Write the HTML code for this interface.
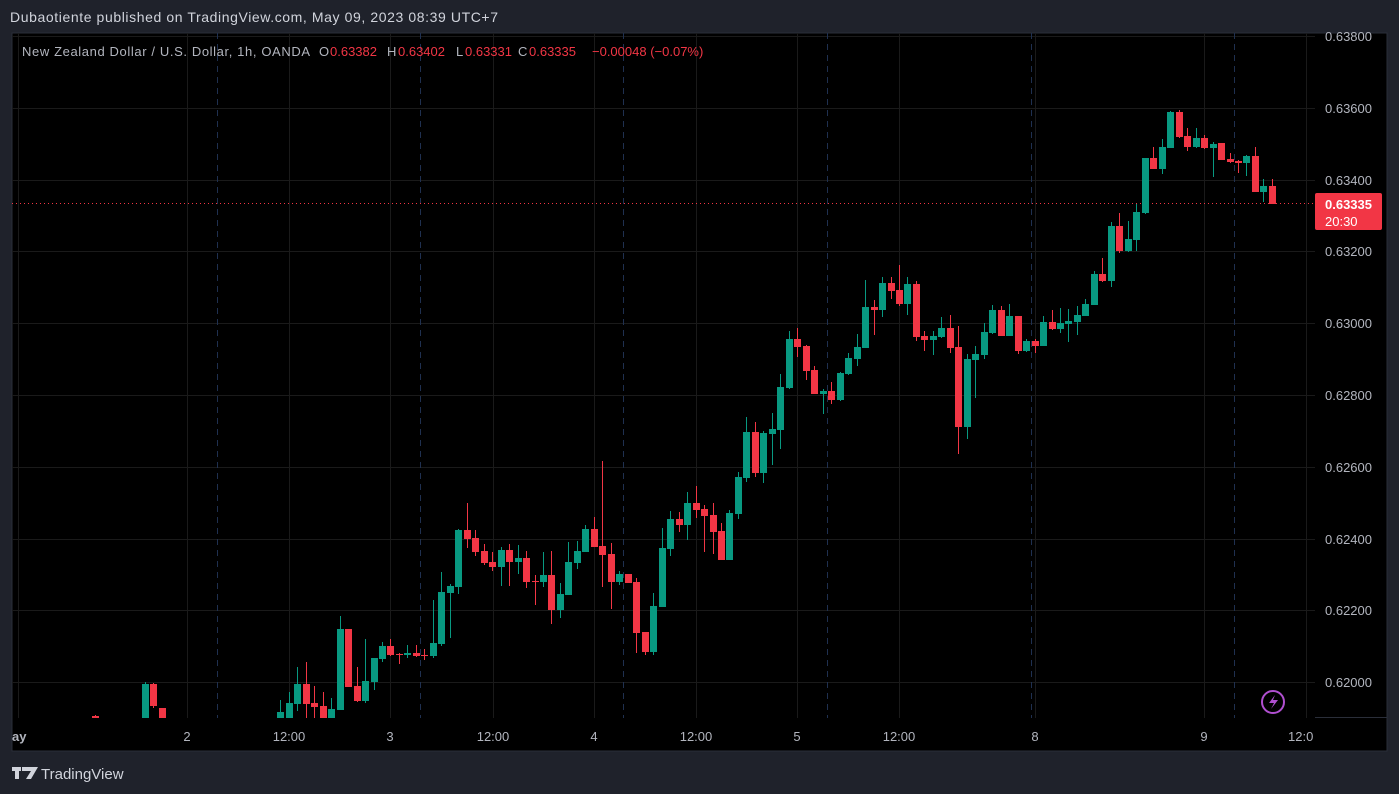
<!DOCTYPE html>
<html><head><style>
body{margin:0;width:1399px;height:794px;background:#1f222b;overflow:hidden;font-family:"Liberation Sans",sans-serif}
svg{position:absolute;left:0;top:0}
</style></head><body>
<svg width="1399" height="794" xmlns="http://www.w3.org/2000/svg" font-family="Liberation Sans, sans-serif">
<rect x="0" y="0" width="1399" height="794" fill="#1f222b"/>
<text x="10" y="22" fill="#d1d4dc" font-size="14" textLength="488">Dubaotiente published on TradingView.com, May 09, 2023 08:39 UTC+7</text>
<rect x="12" y="33" width="1375" height="718" fill="#000" stroke="#2a2e39"/>
<g stroke="#1a1a1a" stroke-width="1" id="grid"></g>
<g id="vd" stroke="#1f3050" stroke-dasharray="6,5"></g>
<line x1="12" y1="203.5" x2="1315" y2="203.5" stroke="#f23645" stroke-dasharray="1,3"/>
<g id="c"></g>
<line x1="1315" y1="717.5" x2="1387" y2="717.5" stroke="#2a2e39"/>
<g fill="#b2b5be" font-size="13" id="pl"></g>
<rect x="1315" y="193" width="67" height="37" fill="#f23645" rx="2"/>
<text x="1325" y="209" fill="#fff" font-size="13" font-weight="bold">0.63335</text>
<text x="1325" y="226" fill="#fff" font-size="13">20:30</text>
<g fill="#b2b5be" font-size="13">
<text x="12" y="741" font-weight="bold">ay</text>
<text x="187" y="741" text-anchor="middle">2</text>
<text x="289" y="741" text-anchor="middle">12:00</text>
<text x="390" y="741" text-anchor="middle">3</text>
<text x="493" y="741" text-anchor="middle">12:00</text>
<text x="594" y="741" text-anchor="middle">4</text>
<text x="696" y="741" text-anchor="middle">12:00</text>
<text x="797" y="741" text-anchor="middle">5</text>
<text x="899" y="741" text-anchor="middle">12:00</text>
<text x="1035" y="741" text-anchor="middle">8</text>
<text x="1204" y="741" text-anchor="middle">9</text>
<text x="1288" y="741">12:0</text>
</g>
<g font-size="13" fill="#b2b5be">
<text x="22" y="56" textLength="288">New Zealand Dollar / U.S. Dollar, 1h, OANDA</text>
<text x="319" y="56">O</text><text x="330" y="56" fill="#f23645">0.63382</text>
<text x="387" y="56">H</text><text x="398" y="56" fill="#f23645">0.63402</text>
<text x="456" y="56">L</text><text x="465" y="56" fill="#f23645">0.63331</text>
<text x="518" y="56">C</text><text x="529" y="56" fill="#f23645">0.63335</text>
<text x="592" y="56" fill="#f23645">−0.00048 (−0.07%)</text>
</g>
<circle cx="1273" cy="702" r="11" fill="none" stroke="#b04fd0" stroke-width="2"/>
<path d="M1275 695 L1269 703 L1274 703 L1271 709 L1278 700 L1273 700 Z" fill="#b04fd0"/>
<g fill="#d1d4dc"><rect x="12" y="767" width="9" height="4"/><rect x="15" y="767" width="4" height="12"/><path d="M22 767 h16 l-7 12 h-5 l5 -8 h-9z"/></g>
<text x="41" y="779" fill="#d1d4dc" font-size="15">TradingView</text>
</svg>
<script>
const ns="http://www.w3.org/2000/svg";
function el(p,t,a){const e=document.createElementNS(ns,t);for(const k in a)e.setAttribute(k,a[k]);p.appendChild(e);return e;}
const g=document.getElementById('grid'),vd=document.getElementById('vd'),pl=document.getElementById('pl');
const prices=["0.63800","0.63600","0.63400","0.63200","0.63000","0.62800","0.62600","0.62400","0.62200","0.62000"];
prices.forEach((p,i)=>{const y=36+i*71.8;el(g,'line',{x1:12,x2:1315,y1:Math.round(y)+.5,y2:Math.round(y)+.5});const t=el(pl,'text',{x:1325,y:Math.round(y)+5});t.textContent=p;});
[18,187,289,390,493,594,696,797,899,1035,1204,1306].forEach(x=>el(g,'line',{x1:x+.5,x2:x+.5,y1:33,y2:718}));
[217,420,623,827,1031,1234].forEach(x=>el(vd,'line',{x1:x+.5,x2:x+.5,y1:33,y2:718}));
const C=[
[95,716,718,715,718],[145,718,684,682,718],[153,684,706,683,708],[162,708,718,708,718],
[280,718,712,700,718],[289,718,703,692,718],[297,704,684,667,711],[306,684,704,662,718],[314,703,707,686,718],[323,706,718,692,718],[331,718,709,698,718],
[340,710,629,616,710],[348,629,687,629,687],[357,686,701,667,702],[365,701,681,639,703],[374,682,658,658,690],[382,659,646,642,662],[390,646,655,639,656],
[399,654,654,653,664],[407,655,653,645,658],[416,653,656,645,657],[424,655,655,649,660],[433,656,643,600,658],[441,644,592,572,646],[450,593,586,584,638],
[458,587,530,529,594],[467,530,539,503,548],[475,538,552,530,556],[484,551,563,544,565],[492,562,567,552,571],[501,567,550,547,586],[509,550,562,544,586],
[518,562,558,545,574],[526,558,582,551,588],[535,581,581,575,605],[543,582,575,552,587],[551,575,610,551,624],[560,610,594,583,618],[568,595,562,542,595],
[577,563,551,541,569],[585,552,529,525,552],[594,529,547,517,547],[602,546,555,461,587],[611,554,582,543,609],[619,582,574,571,585],[628,574,583,574,583],
[636,582,633,578,653],[645,632,652,632,655],[653,652,606,593,655],[662,607,548,528,607],[670,549,519,511,556],[679,519,525,512,532],[687,525,503,492,540],
[696,503,510,486,518],[704,509,516,505,552],[713,515,532,503,554],[721,531,560,523,560],[729,560,513,510,560],[738,514,477,472,519],[746,478,432,417,482],
[755,432,473,422,477],[763,473,433,431,483],[772,434,429,413,465],[780,430,387,374,449],[789,388,339,331,389],[797,339,347,328,357],[806,346,371,345,380],
[814,370,394,366,394],[823,394,391,389,414],[831,391,400,382,404],[840,400,373,372,401],[848,374,358,353,375],[857,359,347,334,366],[865,348,307,280,348],
[874,307,310,300,335],[882,310,283,277,317],[891,283,291,277,299],[899,290,304,265,306],[907,304,284,277,315],[916,284,337,281,341],[924,336,340,331,351],
[933,340,336,331,355],[941,337,328,317,338],[950,328,348,315,353],[958,347,427,326,454],[967,427,359,354,439],[975,360,354,346,398],[984,355,332,323,359],
[992,333,310,305,334],[1001,310,336,306,336],[1009,336,316,304,336],[1018,316,351,316,354],[1026,351,341,339,352],[1035,341,346,339,353],[1043,346,322,316,346],
[1052,322,329,310,330],[1060,329,323,308,333],[1068,324,321,309,342],[1077,322,315,306,335],[1085,316,304,299,316],[1094,305,274,271,305],[1102,274,281,258,282],
[1111,281,226,222,287],[1119,226,251,213,253],[1128,251,239,221,252],[1136,240,212,204,251],[1145,213,158,158,214],[1153,158,169,147,169],[1162,169,147,139,174],
[1170,148,112,111,148],[1179,112,137,110,138],[1187,136,147,128,151],[1196,147,138,128,148],[1204,138,148,135,149],[1213,148,144,142,177],[1221,143,160,143,160],
[1230,159,162,153,163],[1238,161,163,160,173],[1246,163,156,155,176],[1255,156,192,147,192],[1263,192,186,179,202],[1272,186,204,179,204]];
const cg=document.getElementById('c');
C.forEach(([x,o,c,h,l])=>{const up=c<o;const col=up?'#089981':'#f23645';
el(cg,'line',{x1:x+.5,x2:x+.5,y1:h,y2:l,stroke:col});
const t=Math.min(o,c),b=Math.max(o,c);el(cg,'rect',{x:x-3,y:t,width:7,height:Math.max(1,b-t),fill:col});});
</script>
</body></html>
